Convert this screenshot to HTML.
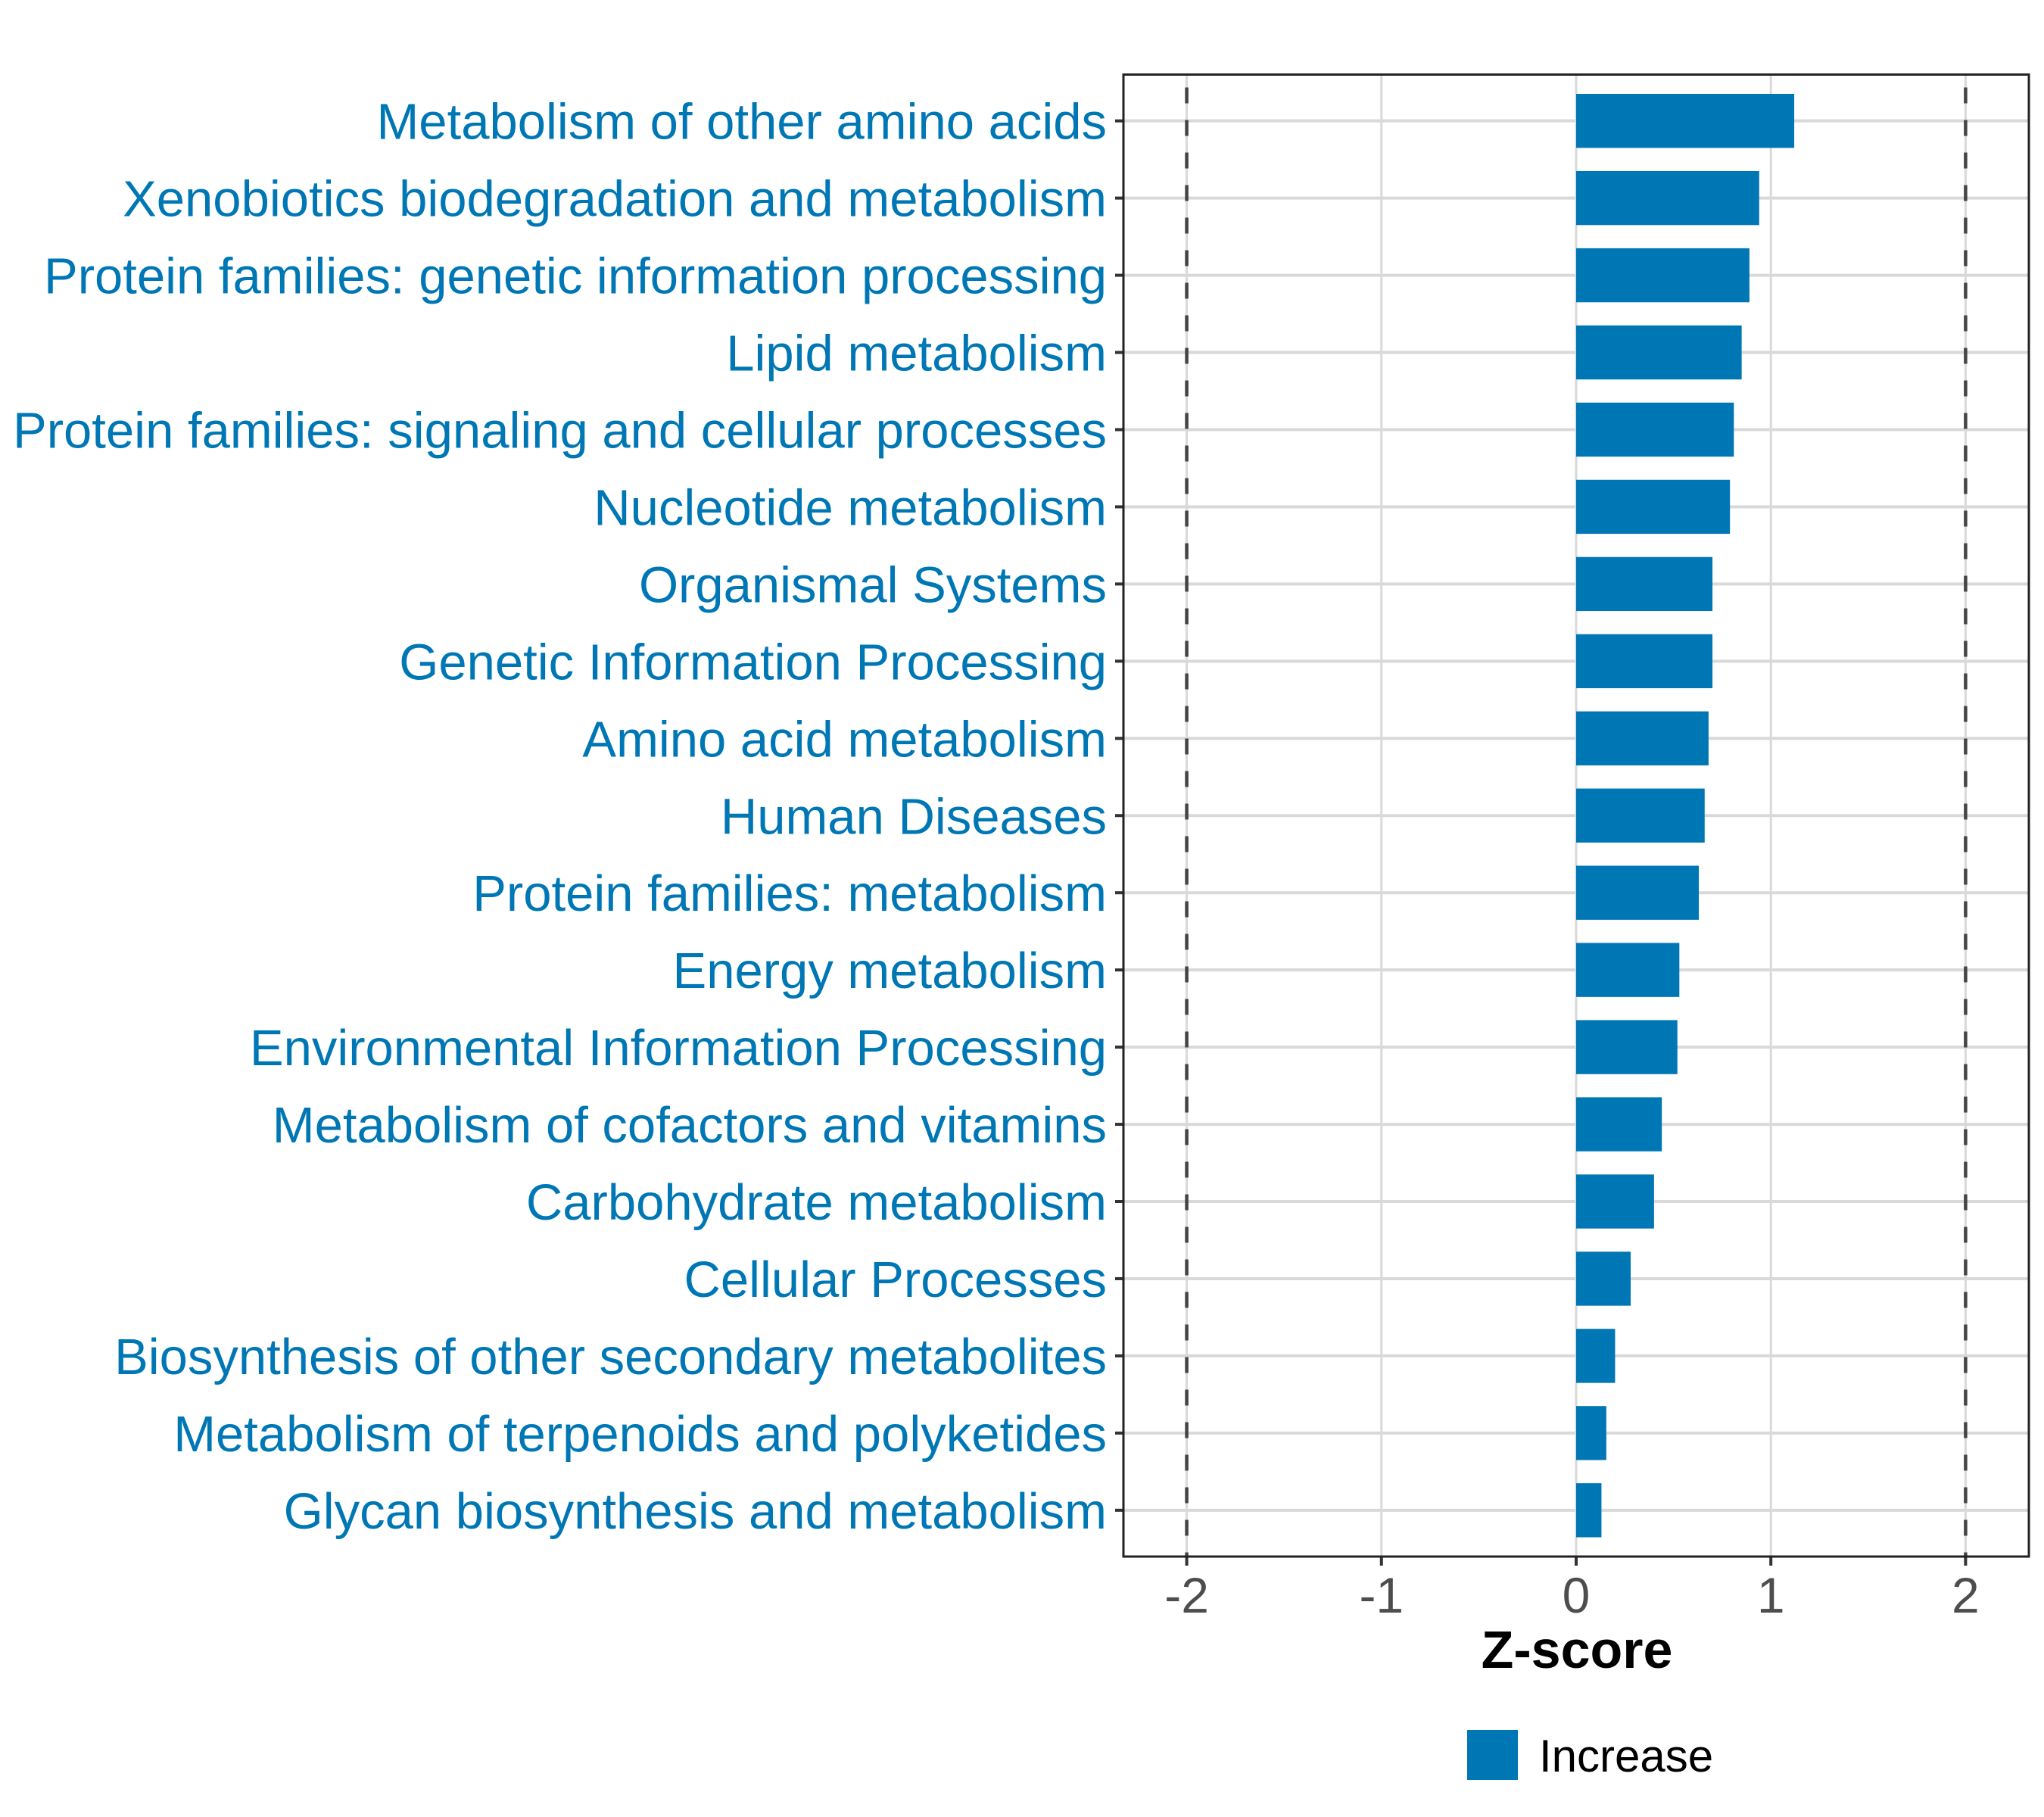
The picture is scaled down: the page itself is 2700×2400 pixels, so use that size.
<!DOCTYPE html>
<html><head><meta charset="utf-8"><style>
html,body{margin:0;padding:0;background:#fff}
svg{display:block;font-family:"Liberation Sans",Arial,sans-serif}
</style></head><body>
<svg id="chart" width="2700" height="2400" viewBox="0 0 2700 2400" xmlns="http://www.w3.org/2000/svg">
<g id="grid"></g>
<g id="bars"></g>
<g id="ylabels"></g>
<g id="xaxis"></g>
<text x="2083" y="2203" font-size="70" font-weight="bold" text-anchor="middle" fill="#000">Z-score</text>
<g>
<rect x="1938" y="2285" width="67" height="66" fill="#0077B5"/>
<text x="2033" y="2340" font-size="60" fill="#000">Increase</text>
</g>
</svg>
<script>
const categories = ["Metabolism of other amino acids","Xenobiotics biodegradation and metabolism","Protein families: genetic information processing","Lipid metabolism","Protein families: signaling and cellular processes","Nucleotide metabolism","Organismal Systems","Genetic Information Processing","Amino acid metabolism","Human Diseases","Protein families: metabolism","Energy metabolism","Environmental Information Processing","Metabolism of cofactors and vitamins","Carbohydrate metabolism","Cellular Processes","Biosynthesis of other secondary metabolites","Metabolism of terpenoids and polyketides","Glycan biosynthesis and metabolism"];
const zscores = [1.12,0.94,0.89,0.85,0.81,0.79,0.70,0.70,0.68,0.66,0.63,0.53,0.52,0.44,0.40,0.28,0.20,0.155,0.13];
const xTicks = [-2,-1,0,1,2];
const xTickLabels = ["-2","-1","0","1","2"];
const thresholds = [-2,2];

const NS="http://www.w3.org/2000/svg";
const L=1484,R=2680,T=98.5,B=2056;
const xMin=-2.325,xMax=2.325;
function xs(v){return L+(v-xMin)/(xMax-xMin)*(R-L);}
const n=categories.length;
const step=(B-T)/(n+0.2);
function ys(i){return T+step*(0.6+i);}
function mk(tag,attrs,parent){const e=document.createElementNS(NS,tag);for(const k in attrs)e.setAttribute(k,attrs[k]);parent.appendChild(e);return e;}
const grid=document.getElementById('grid'),bars=document.getElementById('bars'),yl=document.getElementById('ylabels'),xa=document.getElementById('xaxis'),svg=document.getElementById('chart');

xTicks.forEach(t=>{const g=mk('line',{x1:xs(t),x2:xs(t),y1:T,y2:B,stroke:'#d9d9d9','stroke-width':3},grid);

});
categories.forEach((c,i)=>{const g=mk('line',{x1:L,x2:R,y1:ys(i),y2:ys(i),stroke:'#d9d9d9','stroke-width':4},grid);

});
thresholds.forEach(t=>{const d=mk('line',{x1:xs(t),x2:xs(t),y1:T,y2:B,stroke:'#444','stroke-width':4.5,'stroke-dasharray':'21,22','stroke-dashoffset':'-17'},grid);

});

categories.forEach((c,i)=>{const v=zscores[i];const h=step*0.7;
const b=mk('rect',{x:Math.min(xs(0),xs(v)),y:ys(i)-h/2,width:Math.abs(xs(v)-xs(0)),height:h,fill:'#0077B5'},bars);


const tk=mk('line',{x1:L-11,x2:L,y1:ys(i),y2:ys(i),stroke:'#333','stroke-width':4},yl);


const t=mk('text',{x:L-22,y:ys(i)+24,'font-size':67,'text-anchor':'end',fill:'#0077B5'},yl);
t.textContent=c;

});

const fr=mk('rect',{x:L,y:T,width:R-L,height:B-T,fill:'none',stroke:'#222','stroke-width':3},svg);



xTicks.forEach((t,i)=>{const tk=mk('line',{x1:xs(t),x2:xs(t),y1:B,y2:B+12,stroke:'#333','stroke-width':4},xa);


const tx=mk('text',{x:xs(t),y:B+74,'font-size':66,'text-anchor':'middle',fill:'#4d4d4d'},xa);
tx.textContent=xTickLabels[i];

});
</script>
</body></html>
